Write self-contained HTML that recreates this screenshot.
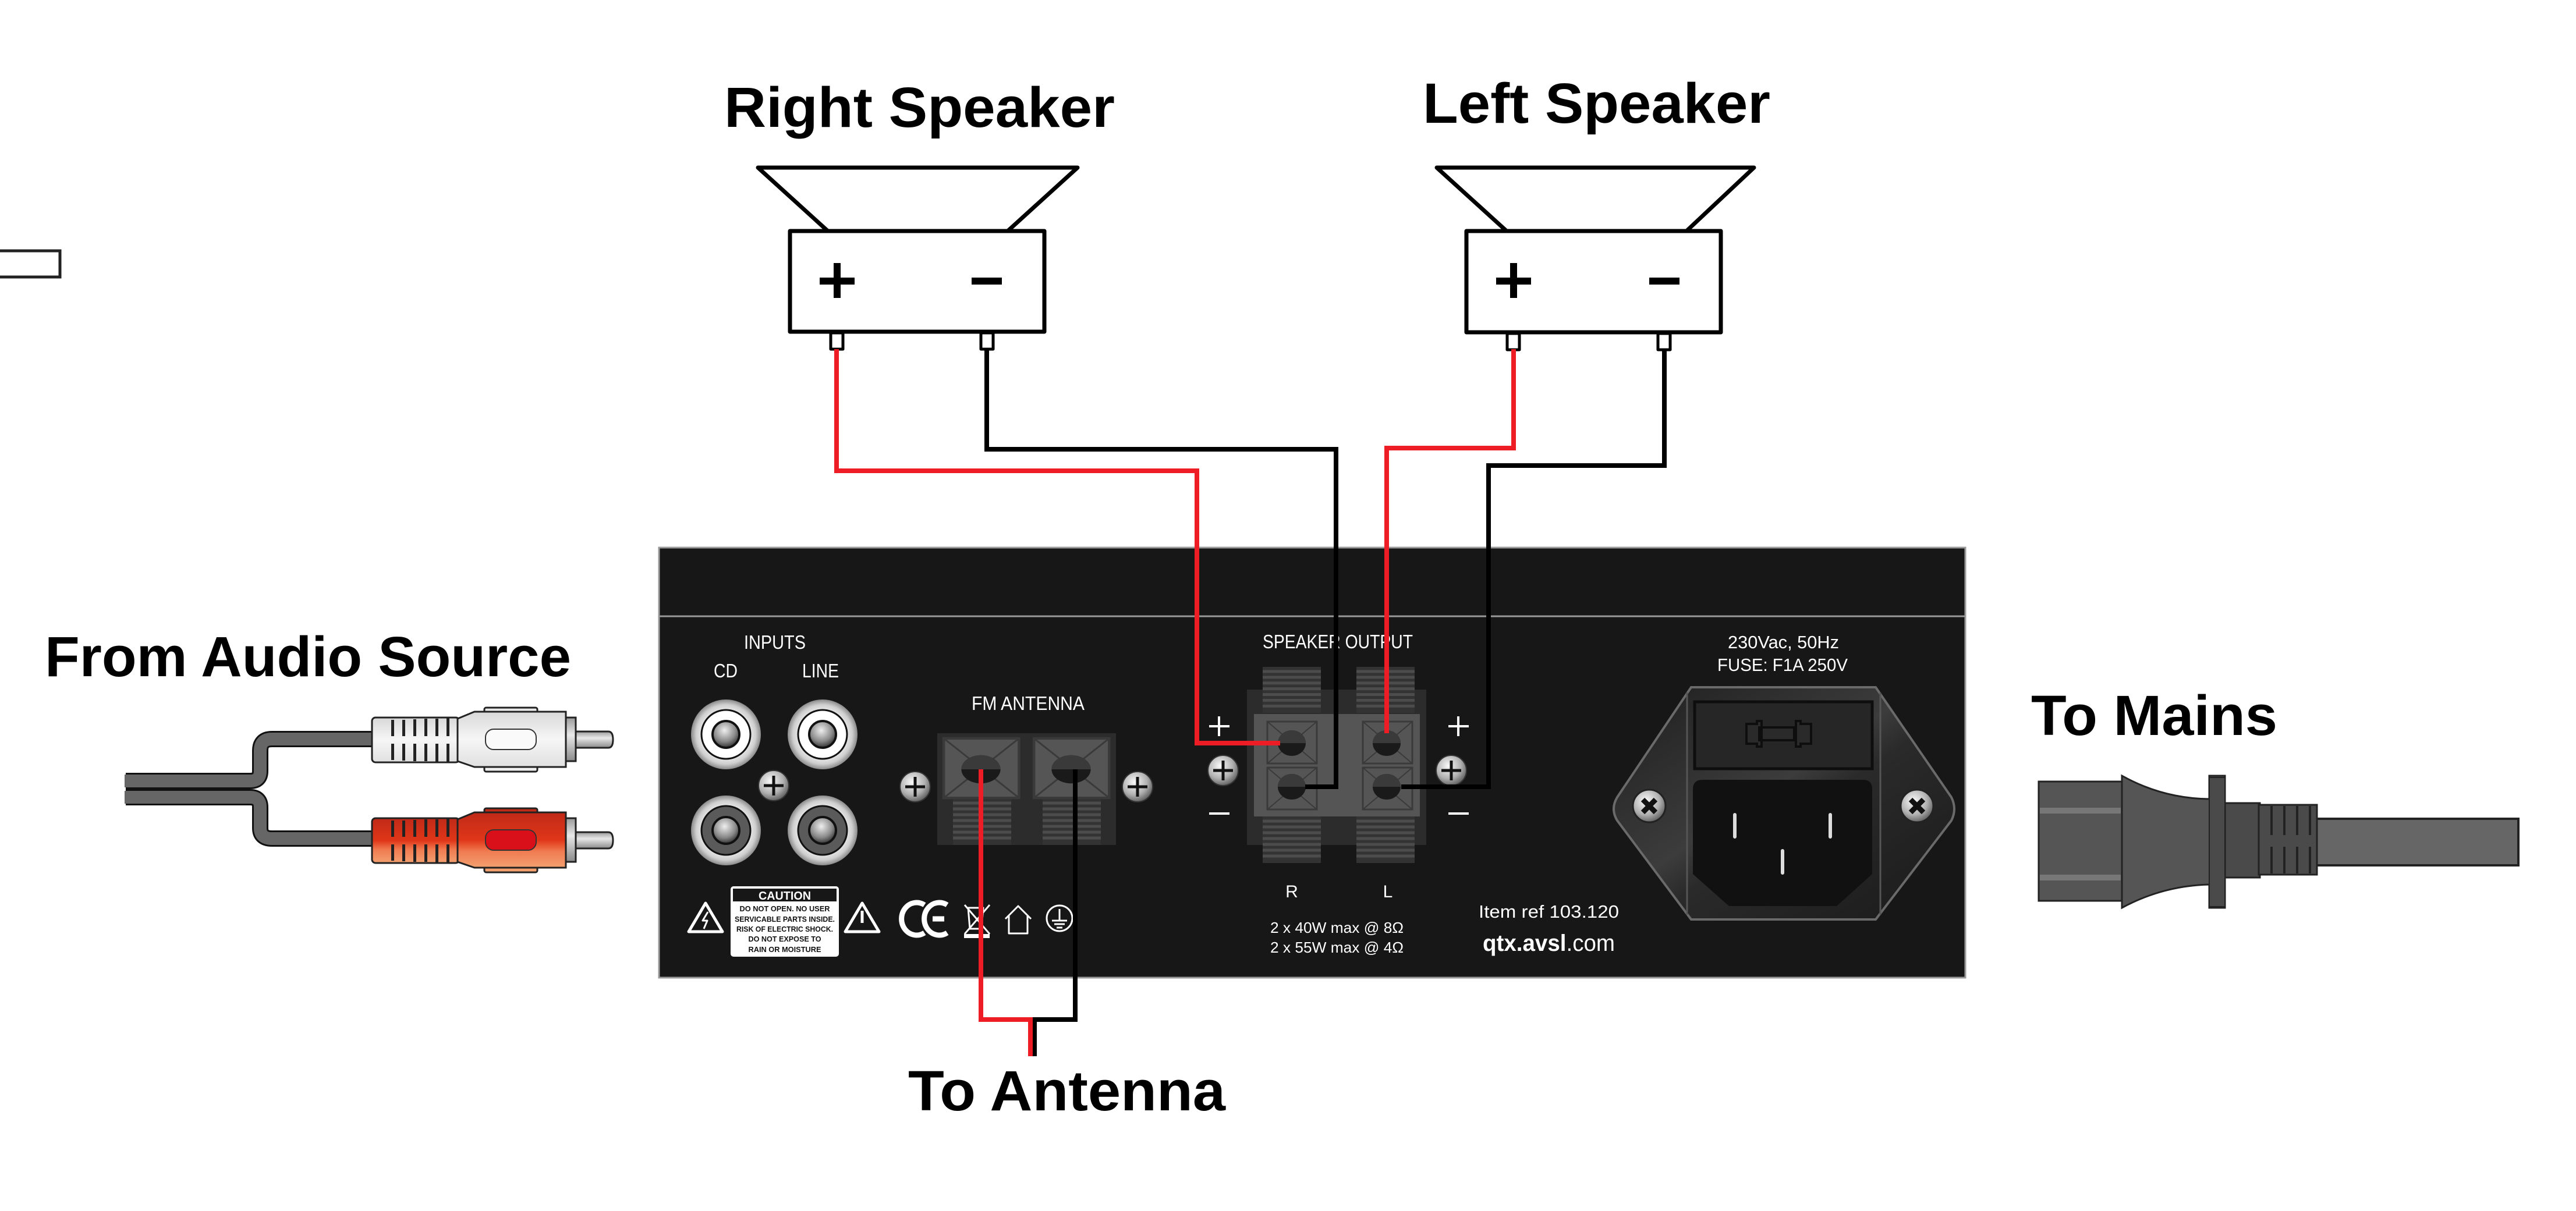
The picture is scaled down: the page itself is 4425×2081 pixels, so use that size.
<!DOCTYPE html>
<html><head><meta charset="utf-8"><style>
html,body{margin:0;padding:0;background:#fff;}
svg{display:block;}
.t{font-family:"Liberation Sans",sans-serif;font-weight:bold;fill:#000;font-size:97px;}
.w{font-family:"Liberation Sans Narrow","Liberation Sans",sans-serif;fill:#fff;}
</style></head><body>
<svg width="4425" height="2081" viewBox="0 0 4425 2081" xmlns="http://www.w3.org/2000/svg">
<defs>
<radialGradient id="scr" cx="40%" cy="35%" r="70%"><stop offset="0" stop-color="#fafafa"/><stop offset=".6" stop-color="#b0b0b0"/><stop offset="1" stop-color="#555"/></radialGradient>
<radialGradient id="jk" cx="50%" cy="50%" r="50%"><stop offset=".6" stop-color="#f4f4f4"/><stop offset=".85" stop-color="#cfcfcf"/><stop offset="1" stop-color="#8a8a8a"/></radialGradient>
<radialGradient id="pin" cx="45%" cy="35%" r="60%"><stop offset="0" stop-color="#eee"/><stop offset=".7" stop-color="#888"/><stop offset="1" stop-color="#444"/></radialGradient>
<linearGradient id="wp" x1="0" y1="0" x2="0" y2="1"><stop offset="0" stop-color="#d8d8d8"/><stop offset=".5" stop-color="#f6f6f6"/><stop offset="1" stop-color="#e0e0e0"/></linearGradient>
<linearGradient id="rp" x1="0" y1="0" x2="0" y2="1"><stop offset="0" stop-color="#c02a18"/><stop offset=".5" stop-color="#e03618"/><stop offset=".7" stop-color="#f07a50"/><stop offset="1" stop-color="#f2a070"/></linearGradient>
<linearGradient id="mp" x1="0" y1="0" x2="0" y2="1"><stop offset="0" stop-color="#9a9a9a"/><stop offset=".4" stop-color="#e8e8e8"/><stop offset="1" stop-color="#8a8a8a"/></linearGradient>
<linearGradient id="iec" x1="0" y1="0" x2="1" y2="1"><stop offset="0" stop-color="#1e1e1e"/><stop offset=".45" stop-color="#3c3c3c"/><stop offset=".55" stop-color="#2a2a2a"/><stop offset="1" stop-color="#1a1a1a"/></linearGradient>
<g id="screw"><circle r="26" fill="url(#scr)" stroke="#333" stroke-width="2"/><path d="M-17,0H17M0,-17V17" stroke="#111" stroke-width="5"/></g>
<g id="xscrew"><circle r="28" fill="url(#scr)" stroke="#222" stroke-width="3"/><path d="M-11,-11L11,11M11,-11L-11,11" stroke="#111" stroke-width="9"/></g>
<g id="tsq"><rect x="-42" y="-36" width="85" height="72" fill="#555" stroke="#3a3a3a" stroke-width="3"/><path d="M-42,-36L43,36M43,-36L-42,36" stroke="#3a3a3a" stroke-width="2"/></g>
<g id="hole"><ellipse rx="24" ry="22" fill="#1a1a1a"/><path d="M-24,0A24,22 0 0 1 24,0Z" fill="#3a3a3a"/></g>
<g id="ribs"><rect x="0" y="0" width="100" height="80" fill="#333"/><path d="M0,8H100M0,18H100M0,28H100M0,38H100M0,48H100M0,58H100M0,68H100" stroke="#4c4c4c" stroke-width="5"/></g>
</defs>

<text class="t" x="1244" y="218" textLength="671" lengthAdjust="spacingAndGlyphs">Right Speaker</text>
<text class="t" x="2444" y="211" textLength="597" lengthAdjust="spacingAndGlyphs">Left Speaker</text>
<text class="t" x="77" y="1162" textLength="904" lengthAdjust="spacingAndGlyphs">From Audio Source</text>
<text class="t" x="3489" y="1263" textLength="423" lengthAdjust="spacingAndGlyphs">To Mains</text>
<text class="t" x="1560" y="1908" textLength="545" lengthAdjust="spacingAndGlyphs">To Antenna</text>

<rect x="-4" y="431" width="107" height="45" fill="none" stroke="#222" stroke-width="5"/>

<g fill="none" stroke="#000" stroke-width="7" stroke-linejoin="round">
<polyline points="1422,397 1302,288 1851,288 1731,397"/>
<rect x="1357" y="397" width="437" height="173" fill="#fff"/>
<rect x="1427" y="572" width="21" height="28" stroke-width="5"/>
<rect x="1685" y="572" width="21" height="28" stroke-width="5"/>
<polyline points="2588,397 2468,288 3013,288 2897,397"/>
<rect x="2519" y="397" width="437" height="174" fill="#fff"/>
<rect x="2589" y="573" width="21" height="28" stroke-width="5"/>
<rect x="2848" y="573" width="21" height="28" stroke-width="5"/>
</g>
<g fill="#000">
<rect x="1408" y="477" width="60" height="12"/><rect x="1432" y="452" width="12" height="60"/>
<rect x="1669" y="477" width="52" height="12"/>
<rect x="2570" y="477" width="60" height="12"/><rect x="2594" y="452" width="12" height="60"/>
<rect x="2833" y="477" width="52" height="12"/>
</g>

<rect x="1132" y="941" width="2244" height="739" fill="#171717" stroke="#9a9a9a" stroke-width="3"/>
<line x1="1132" y1="1059" x2="3376" y2="1059" stroke="#9a9a9a" stroke-width="3"/>

<text class="w" x="1278" y="1115" font-size="33" textLength="106" lengthAdjust="spacingAndGlyphs">INPUTS</text>
<text class="w" x="1226" y="1164" font-size="33" textLength="41" lengthAdjust="spacingAndGlyphs">CD</text>
<text class="w" x="1378" y="1164" font-size="33" textLength="63" lengthAdjust="spacingAndGlyphs">LINE</text>
<g>
<circle cx="1247" cy="1262" r="60" fill="url(#jk)"/><circle cx="1247" cy="1262" r="42" fill="#fff" stroke="#111" stroke-width="3"/><circle cx="1247" cy="1262" r="23" fill="url(#pin)" stroke="#111" stroke-width="4"/>
<circle cx="1413" cy="1262" r="60" fill="url(#jk)"/><circle cx="1413" cy="1262" r="42" fill="#fff" stroke="#111" stroke-width="3"/><circle cx="1413" cy="1262" r="23" fill="url(#pin)" stroke="#111" stroke-width="4"/>
<circle cx="1247" cy="1427" r="60" fill="url(#jk)"/><circle cx="1247" cy="1427" r="42" fill="#5a5a5a" stroke="#111" stroke-width="3"/><circle cx="1247" cy="1427" r="23" fill="url(#pin)" stroke="#111" stroke-width="4"/>
<circle cx="1413" cy="1427" r="60" fill="url(#jk)"/><circle cx="1413" cy="1427" r="42" fill="#5a5a5a" stroke="#111" stroke-width="3"/><circle cx="1413" cy="1427" r="23" fill="url(#pin)" stroke="#111" stroke-width="4"/>
</g>
<use href="#screw" x="1329" y="1350"/>

<text class="w" x="1669" y="1220" font-size="33" textLength="194" lengthAdjust="spacingAndGlyphs">FM ANTENNA</text>
<rect x="1610" y="1260" width="307" height="192" fill="#2c2c2c"/>
<use href="#ribs" x="1637" y="1372"/><use href="#ribs" x="1791" y="1372"/>
<g transform="translate(1685,1320) scale(1.52,1.42)"><use href="#tsq"/></g>
<g transform="translate(1840,1320) scale(1.52,1.42)"><use href="#tsq"/></g>
<g transform="translate(1685,1322) scale(1.4,1.1)"><use href="#hole"/></g>
<g transform="translate(1840,1322) scale(1.4,1.1)"><use href="#hole"/></g>
<use href="#screw" x="1572" y="1352"/><use href="#screw" x="1954" y="1352"/>

<rect x="1255" y="1523" width="186" height="121" rx="5" fill="#fff"/>
<rect x="1259" y="1527" width="178" height="22" fill="#171717"/>
<g font-family="'Liberation Sans Narrow','Liberation Sans',sans-serif" font-weight="bold" text-anchor="middle">
<text x="1348" y="1546" font-size="20" fill="#fff" textLength="90" lengthAdjust="spacingAndGlyphs">CAUTION</text>
<g fill="#111" font-size="13">
<text x="1348" y="1566" textLength="155" lengthAdjust="spacingAndGlyphs">DO NOT OPEN. NO USER</text>
<text x="1348" y="1584" textLength="172" lengthAdjust="spacingAndGlyphs">SERVICABLE PARTS INSIDE.</text>
<text x="1348" y="1601" textLength="166" lengthAdjust="spacingAndGlyphs">RISK OF ELECTRIC SHOCK.</text>
<text x="1348" y="1618" textLength="125" lengthAdjust="spacingAndGlyphs">DO NOT EXPOSE TO</text>
<text x="1348" y="1636" textLength="125" lengthAdjust="spacingAndGlyphs">RAIN OR MOISTURE</text>
</g></g>
<g fill="none" stroke="#fff" stroke-width="5" stroke-linejoin="round">
<path d="M1212,1552L1241,1601H1183Z"/><path d="M1481,1552L1510,1601H1452Z"/>
<path d="M1216,1567L1207,1582L1215,1582L1209,1596" stroke-width="3"/>
<path d="M1481,1565V1586" stroke-width="5"/>
<path d="M1588,1555A26,28 0 1 0 1588,1603" stroke-width="9"/>
<path d="M1627,1555A26,28 0 1 0 1627,1603M1602,1579H1622" stroke-width="9"/>
<path d="M1663,1560h26l-3,36h-20z M1657,1555L1700,1605M1700,1555L1657,1605" stroke-width="3"/>
<path d="M1727,1579L1749,1557L1771,1579M1733,1574V1604H1765V1574" stroke-width="3"/>
<circle cx="1820" cy="1578" r="22" stroke-width="3"/>
<path d="M1820,1562V1582M1807,1582H1833M1811,1588H1829M1815,1594H1825" stroke-width="3"/>
</g>
<rect x="1656" y="1605" width="44" height="7" fill="#fff"/>

<text class="w" x="2169" y="1114" font-size="33" textLength="258" lengthAdjust="spacingAndGlyphs">SPEAKER OUTPUT</text>
<rect x="2142" y="1185" width="308" height="267" fill="#2c2c2c"/>
<g transform="translate(2169,1146) scale(1,0.99)"><use href="#ribs"/></g>
<g transform="translate(2330,1146) scale(1,0.99)"><use href="#ribs"/></g>
<g transform="translate(2169,1403)"><use href="#ribs"/></g>
<g transform="translate(2330,1403)"><use href="#ribs"/></g>
<rect x="2154" y="1227" width="285" height="176" fill="#555"/>
<use href="#tsq" x="2219" y="1276"/><use href="#tsq" x="2219" y="1355"/>
<use href="#tsq" x="2383" y="1276"/><use href="#tsq" x="2383" y="1355"/>
<use href="#hole" x="2219" y="1277"/><use href="#hole" x="2219" y="1352"/>
<use href="#hole" x="2382" y="1277"/><use href="#hole" x="2382" y="1352"/>
<g stroke="#fff" stroke-width="4"><path d="M2077,1248H2112M2094,1231V1265M2077,1398H2112M2488,1248H2523M2505,1231V1265M2488,1398H2523"/></g>
<use href="#screw" x="2101" y="1324"/><use href="#screw" x="2493" y="1324"/>
<text class="w" x="2219" y="1542" font-size="30" text-anchor="middle">R</text>
<text class="w" x="2384" y="1542" font-size="30" text-anchor="middle">L</text>
<text class="w" x="2182" y="1603" font-size="26" textLength="229" lengthAdjust="spacingAndGlyphs">2 x 40W max @ 8Ω</text>
<text class="w" x="2182" y="1637" font-size="26" textLength="229" lengthAdjust="spacingAndGlyphs">2 x 55W max @ 4Ω</text>
<text class="w" x="2540" y="1577" font-size="31" textLength="241" lengthAdjust="spacingAndGlyphs">Item ref  103.120</text>
<text class="w" x="2547" y="1634" font-size="40" textLength="227" lengthAdjust="spacingAndGlyphs"><tspan font-weight="bold">qtx.avsl</tspan>.com</text>

<text class="w" x="2968" y="1114" font-size="31" textLength="191" lengthAdjust="spacingAndGlyphs">230Vac, 50Hz</text>
<text class="w" x="2950" y="1153" font-size="31" textLength="224" lengthAdjust="spacingAndGlyphs">FUSE: F1A 250V</text>
<path d="M2905,1181H3222L3352,1370Q3362,1390 3352,1410L3222,1580H2905L2778,1410Q2766,1390 2778,1370Z" fill="url(#iec)" stroke="#6a6a6a" stroke-width="4"/>
<path d="M2898,1190V1572M3230,1190V1572" stroke="#555" stroke-width="3"/>
<rect x="2911" y="1206" width="305" height="115" fill="#262626" stroke="#0e0e0e" stroke-width="5"/>
<path d="M3000,1244h18v-5h8v44h-8v-5h-18z M3022,1250h60v22h-60z M3085,1239h8v5h18v34h-18v5h-8z" fill="#2a2a2a" stroke="#0e0e0e" stroke-width="4"/>
<path d="M2925,1340H3200Q3216,1340 3216,1356V1502L3155,1557H2970L2908,1502V1356Q2908,1340 2925,1340Z" fill="#111"/>
<g stroke="#ddd" stroke-width="6" stroke-linecap="round"><path d="M2980,1400V1438M3144,1400V1438M3062,1462V1500"/></g>
<use href="#xscrew" x="2833" y="1385"/><use href="#xscrew" x="3293" y="1385"/>

<g fill="none" stroke-width="8" stroke-linejoin="miter">
<polyline points="1437,600 1437,809 2056,809 2056,1277 2199,1277" stroke="#ee1c25"/>
<polyline points="1695,600 1695,772 2295,772 2295,1352 2242,1352" stroke="#000"/>
<polyline points="2600,600 2600,770 2382,770 2382,1260" stroke="#ee1c25"/>
<polyline points="2859,600 2859,800 2557,800 2557,1352 2407,1352" stroke="#000"/>
<polyline points="1847,1322 1847,1752 1777,1752 1777,1815" stroke="#000"/>
<polyline points="1685,1322 1685,1752 1770,1752 1770,1815" stroke="#ee1c25"/>
</g>

<g fill="none" stroke-linejoin="round">
<path d="M216,1342H430Q447,1342 447,1325V1290Q447,1270 467,1270H645" stroke="#111" stroke-width="28"/>
<path d="M216,1370H430Q447,1370 447,1387V1423Q447,1441 467,1441H645" stroke="#111" stroke-width="28"/>
<path d="M214,1342H430Q447,1342 447,1325V1290Q447,1270 467,1270H645" stroke="#666" stroke-width="22"/>
<path d="M214,1370H430Q447,1370 447,1387V1423Q447,1441 467,1441H645" stroke="#666" stroke-width="22"/>
</g>
<g>
<rect x="639" y="1233" width="150" height="77" rx="6" fill="url(#wp)" stroke="#222" stroke-width="3"/>
<g fill="#222"><rect x="672" y="1237" width="5" height="28"/><rect x="691" y="1237" width="5" height="28"/><rect x="710" y="1236" width="5" height="29"/><rect x="729" y="1235" width="5" height="30"/><rect x="748" y="1235" width="5" height="30"/><rect x="767" y="1234" width="5" height="31"/>
<rect x="672" y="1278" width="5" height="28"/><rect x="691" y="1278" width="5" height="29"/><rect x="710" y="1278" width="5" height="30"/><rect x="729" y="1278" width="5" height="30"/><rect x="748" y="1278" width="5" height="31"/><rect x="767" y="1278" width="5" height="31"/></g>
<rect x="832" y="1216" width="91" height="12" rx="3" fill="url(#wp)" stroke="#222" stroke-width="3"/>
<rect x="832" y="1314" width="91" height="12" rx="3" fill="url(#wp)" stroke="#222" stroke-width="3"/>
<path d="M786,1235L815,1223H972V1318H815L786,1308Z" fill="url(#wp)" stroke="#222" stroke-width="3"/>
<rect x="972" y="1233" width="17" height="75" fill="url(#mp)" stroke="#222" stroke-width="3"/>
<path d="M989,1257H1045Q1053,1257 1053,1271Q1053,1285 1045,1285H989Z" fill="url(#mp)" stroke="#222" stroke-width="3"/>
<rect x="834" y="1253" width="87" height="35" rx="14" fill="#fafafa" stroke="#333" stroke-width="2"/>
</g>
<g transform="translate(0,173)">
<rect x="639" y="1233" width="150" height="77" rx="6" fill="url(#rp)" stroke="#222" stroke-width="3"/>
<g fill="#222"><rect x="672" y="1237" width="5" height="28"/><rect x="691" y="1237" width="5" height="28"/><rect x="710" y="1236" width="5" height="29"/><rect x="729" y="1235" width="5" height="30"/><rect x="748" y="1235" width="5" height="30"/><rect x="767" y="1234" width="5" height="31"/>
<rect x="672" y="1278" width="5" height="28"/><rect x="691" y="1278" width="5" height="29"/><rect x="710" y="1278" width="5" height="30"/><rect x="729" y="1278" width="5" height="30"/><rect x="748" y="1278" width="5" height="31"/><rect x="767" y="1278" width="5" height="31"/></g>
<rect x="832" y="1216" width="91" height="12" rx="3" fill="#c02a18" stroke="#222" stroke-width="3"/>
<rect x="832" y="1314" width="91" height="12" rx="3" fill="#f2a070" stroke="#222" stroke-width="3"/>
<path d="M786,1235L815,1223H972V1318H815L786,1308Z" fill="url(#rp)" stroke="#222" stroke-width="3"/>
<rect x="972" y="1233" width="17" height="75" fill="url(#mp)" stroke="#222" stroke-width="3"/>
<path d="M989,1257H1045Q1053,1257 1053,1271Q1053,1285 1045,1285H989Z" fill="url(#mp)" stroke="#222" stroke-width="3"/>
<rect x="834" y="1253" width="87" height="35" rx="14" fill="#d9101a" stroke="#333" stroke-width="2"/>
</g>

<rect x="3979" y="1407" width="347" height="80" fill="#666" stroke="#222" stroke-width="4"/>
<rect x="3822" y="1380" width="60" height="128" fill="#4a4a4a" stroke="#222" stroke-width="3"/>
<rect x="3880" y="1383" width="100" height="120" fill="#4a4a4a" stroke="#222" stroke-width="3"/>
<g fill="#222"><rect x="3900" y="1385" width="4" height="50"/><rect x="3922" y="1385" width="4" height="50"/><rect x="3944" y="1385" width="4" height="50"/><rect x="3966" y="1385" width="4" height="50"/>
<rect x="3900" y="1455" width="4" height="46"/><rect x="3922" y="1455" width="4" height="46"/><rect x="3944" y="1455" width="4" height="46"/><rect x="3966" y="1455" width="4" height="46"/></g>
<rect x="3502" y="1343" width="143" height="205" fill="#555" stroke="#222" stroke-width="3"/>
<rect x="3504" y="1388" width="139" height="10" fill="#777"/><rect x="3504" y="1503" width="139" height="10" fill="#777"/>
<path d="M3645,1333Q3715,1372 3795,1373V1333H3822V1560H3795V1520Q3715,1522 3645,1560Z" fill="#555" stroke="#222" stroke-width="3"/>
<rect x="3795" y="1336" width="27" height="222" fill="#4a4a4a" stroke="#222" stroke-width="2"/>
</svg>
</body></html>
